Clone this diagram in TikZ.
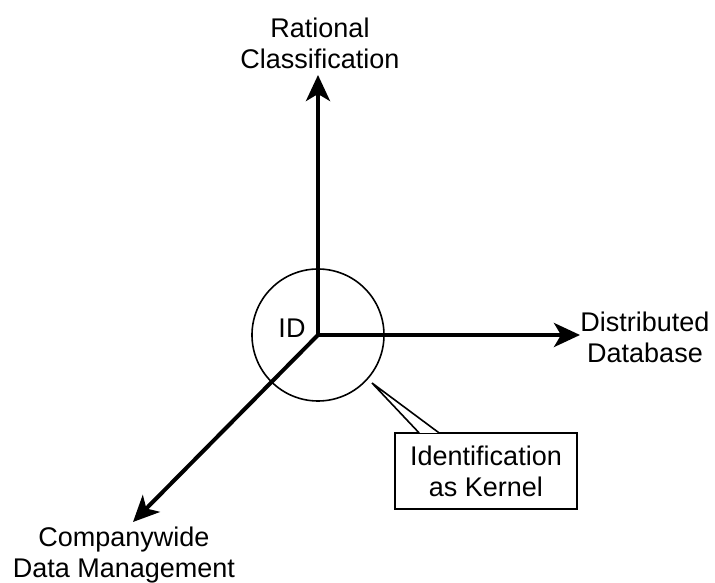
\documentclass[tikz,border=0pt]{standalone}
\usepackage{fontspec}
\setmainfont{Liberation Sans}
\usetikzlibrary{arrows.meta, positioning, calc}

\begin{document}
\begin{tikzpicture}[x=1pt, y=1pt, font=\fontsize{27}{31}\selectfont,
    axis/.style={line width=4pt, -{Stealth[length=26pt, width=24pt, inset=7pt]}},
    lbl/.style={align=center, inner sep=0pt},
    thin line/.style={line width=1.6pt}]
      \useasboundingbox (-318,-248) rectangle (397,335);
      \coordinate (o) at (0,0);
      \node[draw, thin line, circle, minimum size=132pt, inner sep=0pt] (kern) at (o) {};
      \node[lbl] (id) at (-26,7) {ID};
      % the three axes
      \coordinate (up) at (0,260);
      \coordinate (rt) at (262,0);
      \coordinate (dl) at (-185,-187);
      \draw[axis] (o) -- (up);
      \draw[axis] (o) -- (rt);
      \draw[axis] (o) -- (dl);
      \node[lbl] (rat) at (2,292) {Rational\\Classification};
      \node[lbl] (dist) at (327,-2) {Distributed\\Database};
      \node[lbl] (comp) at (-194,-220) {Companywide\\Data Management};
      % callout
      \node[draw, thin line, minimum width=182pt, minimum height=76pt, align=center, inner sep=0pt] (box) at (168,-136)
        {Identification\\as Kernel};
      \coordinate (ptr) at (54,-48);
      \draw[thin line, fill=white] ($(box.north west)+(25,-0.8)$) -- (ptr) -- ($(box.north west)+(45,-0.8)$);
\end{tikzpicture}
\end{document}
